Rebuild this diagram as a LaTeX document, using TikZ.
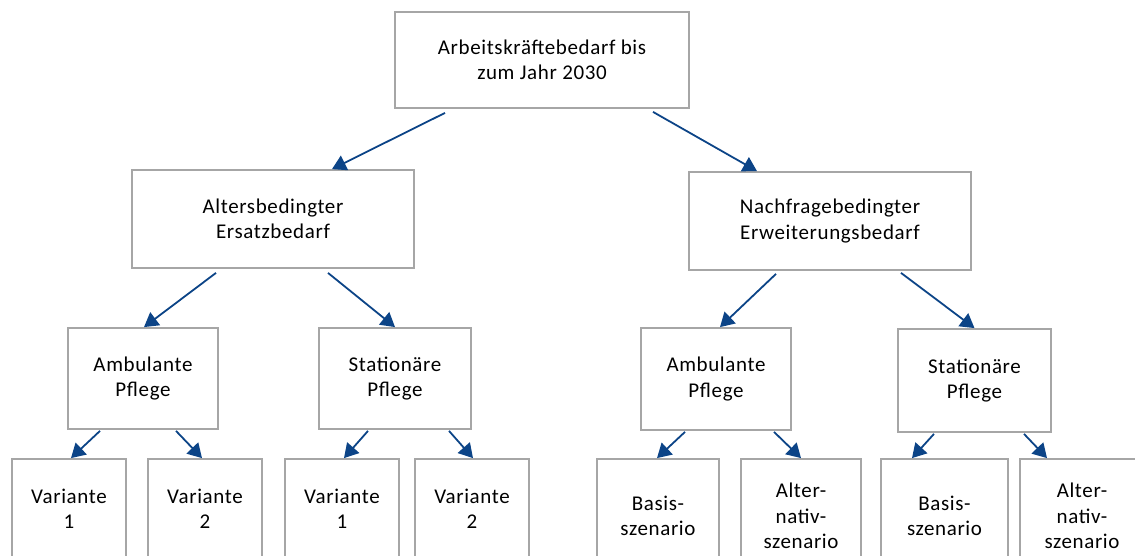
\documentclass[tikz,border=0pt]{standalone}
\usepackage{fontspec}
\setmainfont[LetterSpace=3]{Carlito}
\usetikzlibrary{arrows.meta}
\definecolor{boxgray}{RGB}{166,166,166}
\definecolor{arrowblue}{RGB}{12,68,135}
\begin{document}
\begin{tikzpicture}[x=1pt,y=-1pt,
  box/.style={draw=boxgray, line width=1.8pt, rectangle, align=center,
    font=\fontsize{21}{25.5}\selectfont, inner sep=0pt, fill=white},
  conn/.style={draw=arrowblue, line width=1.8pt,
    -{Triangle[length=14pt,width=16pt]}}]
\useasboundingbox (0,0) rectangle (1135,556);
\clip (0,0) rectangle (1135,556);
% level 0
\node[box, minimum width=294pt, minimum height=96pt] (top) at (542,60) {Arbeitskräftebedarf bis\\zum Jahr 2030};
% level 1
\node[box, minimum width=282pt, minimum height=98pt] (alt) at (273,219) {Altersbedingter\\Ersatzbedarf};
\node[box, minimum width=282pt, minimum height=98pt] (nach) at (830,221) {Nachfragebedingter\\Erweiterungsbedarf};
% level 2
\node[box, minimum width=150pt, minimum height=101pt] (amb1) at (143,378.5) {Ambulante\\Pflege};
\node[box, minimum width=152pt, minimum height=101pt] (stat1) at (395,378.5) {Stationäre\\Pflege};
\node[box, minimum width=150pt, minimum height=102pt] (amb2) at (716,379) {Ambulante\\Pflege};
\node[box, minimum width=153pt, minimum height=103pt] (stat2) at (974.5,380.5) {Stationäre\\Pflege};
% level 3
\node[box, minimum width=114pt, minimum height=100pt] (var1) at (69,509) {Variante\\1};
\node[box, minimum width=114pt, minimum height=100pt] (var2) at (205,509) {Variante\\2};
\node[box, minimum width=114pt, minimum height=100pt] (var3) at (342,509) {Variante\\1};
\node[box, minimum width=114pt, minimum height=100pt] (var4) at (472,509) {Variante\\2};
\node[box, minimum width=122pt, minimum height=114pt] (bas1) at (658,516) {Basis-\\szenario};
\node[box, minimum width=120pt, minimum height=114pt] (alt1) at (801,516) {Alter-\\nativ-\\szenario};
\node[box, minimum width=127pt, minimum height=114pt] (bas2) at (944.5,516) {Basis-\\szenario};
\node[box, minimum width=124pt, minimum height=114pt] (alt2) at (1082,516) {Alter-\\nativ-\\szenario};
% connectors
\draw[conn] ([xshift=-97pt,yshift=-4pt]top.south) -- ([xshift=59pt]alt.north);
\draw[conn] ([xshift=111pt,yshift=-3pt]top.south) -- ([xshift=-73pt]nach.north);
\draw[conn] ([xshift=-57pt,yshift=-4pt]alt.south) -- ([xshift=1pt]amb1.north);
\draw[conn] ([xshift=55pt,yshift=-4pt]alt.south) -- (stat1.north);
\draw[conn] ([xshift=-54pt,yshift=-3pt]nach.south) -- ([xshift=4pt]amb2.north);
\draw[conn] ([xshift=71pt,yshift=-2pt]nach.south) -- (stat2.north);
\draw[conn] ([xshift=-43pt,yshift=-1pt]amb1.south) -- ([xshift=2pt]var1.north);
\draw[conn] ([xshift=33pt,yshift=-1pt]amb1.south) -- ([xshift=-3pt]var2.north);
\draw[conn] ([xshift=-27pt,yshift=-1pt]stat1.south) -- ([xshift=2pt]var3.north);
\draw[conn] ([xshift=54pt,yshift=-1pt]stat1.south) -- ([xshift=1pt]var4.north);
\draw[conn] ([xshift=-31pt,yshift=-1pt]amb2.south) -- ([xshift=-1pt]bas1.north);
\draw[conn] ([xshift=58pt,yshift=-1pt]amb2.south) -- (alt1.north);
\draw[conn] ([xshift=-40.5pt,yshift=-1pt]stat2.south) -- ([xshift=-32.5pt]bas2.north);
\draw[conn] ([xshift=49.5pt,yshift=-1pt]stat2.south) -- ([xshift=-35pt]alt2.north);
\end{tikzpicture}
\end{document}
